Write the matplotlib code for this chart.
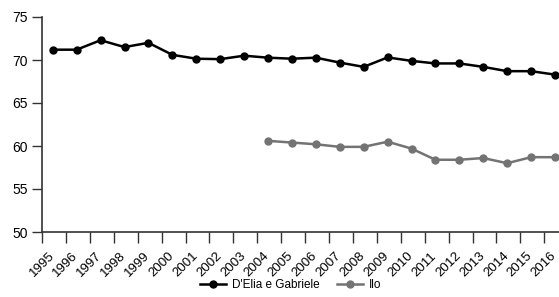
import matplotlib.pyplot as plt
import numpy as np

years = list(range(1995, 2017))
delia = [71.2, 71.2, 72.3, 71.5, 72.0, 70.6, 70.15, 70.1, 70.5, 70.27,
         70.15, 70.27, 69.7, 69.2, 70.3, 69.9, 69.6, 69.6, 69.2, 68.7, 68.7, 68.3]
ilo_years = list(range(2004, 2017))
ilo = [60.6, 60.4, 60.2, 59.9, 59.9, 60.5, 59.7, 58.4, 58.4, 58.6, 58.0, 58.7, 58.7]

plt.rcParams['font.family'] = ['Liberation Sans', 'DejaVu Sans']

fig = plt.figure(figsize=(5.59, 2.97), dpi=100)
ax = fig.add_axes([42 / 559, 1 - 232 / 297, 1 - 42 / 559 + 0.01, 215 / 297])

x = np.arange(len(years))
xi = np.array([years.index(y) for y in ilo_years])

ax.plot(x, delia, color='black', lw=1.8, marker='o', ms=5, label="D'Elia e Gabriele")
ax.plot(xi, ilo, color='#737373', lw=1.8, marker='o', ms=5, label='Ilo')

ax.set_ylim(50, 75)
ax.set_yticks([50, 55, 60, 65, 70, 75])
ax.set_xlim(-0.45, len(years) - 0.6)
ax.set_xticks(x - 0.45)
ax.set_xticklabels([])
ax.set_xticks(x - 0.02, minor=True)
ax.set_xticklabels([str(y) for y in years], minor=True, rotation=45,
                   ha='right', va='center', rotation_mode='anchor', fontsize=9.5)
ax.tick_params(axis='x', which='minor', length=0, pad=16)
ax.tick_params(axis='x', which='major', length=8, width=1, color='#333333')
ax.tick_params(axis='y', length=7, width=1, labelsize=10, color='#333333', pad=3)

for s in ['top', 'right']:
    ax.spines[s].set_visible(False)
for s in ['left', 'bottom']:
    ax.spines[s].set_linewidth(1.2)
    ax.spines[s].set_color('#333333')

fig.legend(loc='center', bbox_to_anchor=(0.52, 0.04), ncol=2, frameon=False,
           fontsize=8.5, handlelength=2.2, columnspacing=1.5, handletextpad=0.5)

fig.savefig('out.png', dpi=100)
